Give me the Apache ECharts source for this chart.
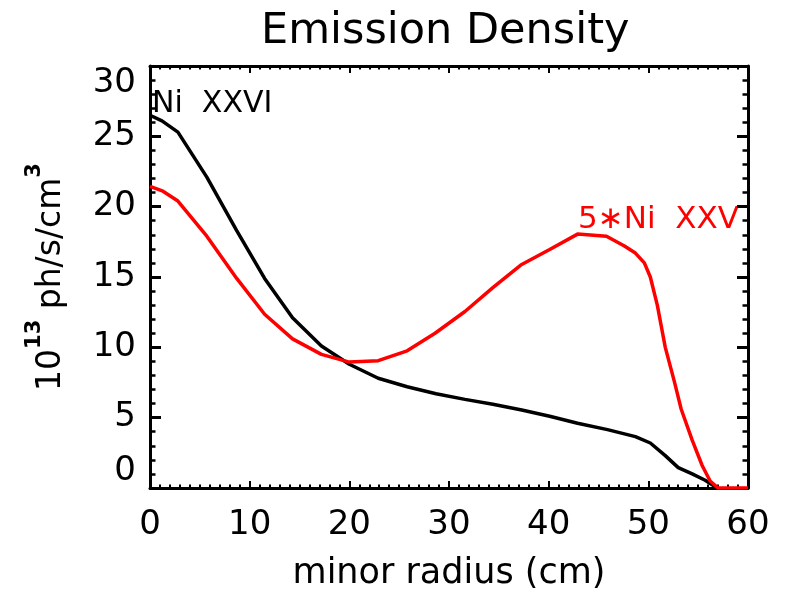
<!DOCTYPE html>
<html>
<head>
<meta charset="utf-8">
<script src="https://cdn.jsdelivr.net/npm/echarts@6/dist/echarts.min.js"></script>
<style>
  html, body { margin: 0; padding: 0; background: #fff; }
  #chart { width: 788px; height: 596px; }
</style>
</head>
<body>
<div id="chart"></div>
<script>
// Ni XXVI emission density profile (10^13 ph/s/cm^3 vs minor radius in cm)
const radiusNi26 = [0, 1.2, 2.8, 5.7, 8.7, 11.5, 14.3, 17.2, 20.0, 22.9, 25.8, 28.7, 31.6, 34.4, 37.3, 40.1, 42.9, 45.9, 48.7, 50.2, 51.7, 53.0, 54.4, 55.7, 56.8];
const emissNi26 = [26.5, 26.1, 25.3, 22.1, 18.3, 14.9, 12.1, 10.1, 8.8, 7.8, 7.2, 6.7, 6.3, 5.95, 5.55, 5.1, 4.6, 4.15, 3.65, 3.2, 2.3, 1.45, 1.0, 0.55, 0.05];

// Ni XXV emission density, scaled by 5
const radiusNi25 = [0, 1.3, 2.8, 5.7, 8.7, 11.5, 14.3, 17.2, 20.0, 22.9, 25.8, 28.6, 31.6, 34.4, 37.2, 40.1, 42.9, 45.8, 47.6, 48.7, 49.6, 50.2, 50.9, 51.7, 52.6, 53.3, 54.4, 55.4, 56.2, 57.0, 60.0];
const emissNi25x5 = [21.45, 21.1, 20.4, 17.9, 14.9, 12.35, 10.6, 9.5, 8.95, 9.05, 9.75, 11.0, 12.55, 14.25, 15.85, 16.95, 18.05, 17.9, 17.2, 16.7, 16.0, 15.0, 13.0, 10.0, 7.6, 5.6, 3.4, 1.6, 0.5, 0, 0];

const xTicks = [0, 10, 20, 30, 40, 50, 60];
const yTicks = [0, 5, 10, 15, 20, 25, 30];

const FONT = 'DejaVu Sans';
const pairs = (xs, ys) => xs.map((x, i) => [x, ys[i]]);

const chart = echarts.init(document.getElementById('chart'), null, { renderer: 'canvas' });

const axisLine = { show: true, onZero: false, lineStyle: { color: '#000', width: 3 } };

function xAxisDef(pos, labels) {
  return {
    type: 'value', position: pos, min: xTicks[0], max: xTicks[xTicks.length - 1], interval: 10,
    axisLine: axisLine,
    axisTick: { show: true, inside: true, length: 7, lineStyle: { color: '#000', width: 2 } },
    minorTick: { show: true, splitNumber: 10, length: 3.5, lineStyle: { color: '#000', width: 2 } },
    splitLine: { show: false },
    axisLabel: labels ? { show: true, margin: 20, color: '#000', fontFamily: FONT, fontSize: 34 } : { show: false },
    name: labels ? 'minor radius (cm)' : '',
    nameLocation: 'middle', nameGap: 68,
    nameTextStyle: { color: '#000', fontFamily: FONT, fontSize: 35 }
  };
}

function yAxisDef(pos, labels) {
  return {
    type: 'value', position: pos, min: yTicks[0], max: yTicks[yTicks.length - 1], interval: 5,
    axisLine: axisLine,
    axisTick: { show: true, inside: true, length: 11, lineStyle: { color: '#000', width: 3 } },
    minorTick: { show: true, splitNumber: 5, length: 5.5, lineStyle: { color: '#000', width: 2.5 } },
    splitLine: { show: false },
    axisLabel: labels ? {
      show: true, margin: 14, color: '#000', fontFamily: FONT, fontSize: 34,
      verticalAlignMinLabel: 'bottom', verticalAlignMaxLabel: 'top'
    } : { show: false },
    name: labels ? '{n|10}{s|13}{n| ph/s/cm}{s|3}' : '',
    nameLocation: 'middle', nameRotate: 90, nameGap: 82,
    nameTextStyle: {
      color: '#000', fontFamily: FONT, fontSize: 33,
      rich: {
        n: { fontFamily: FONT, fontSize: 33, color: '#000', verticalAlign: 'bottom', lineHeight: 44 },
        s: { fontFamily: FONT, fontSize: 21, color: '#000', fontWeight: 'bold', verticalAlign: 'top', lineHeight: 44 }
      }
    }
  };
}

chart.setOption({
  backgroundColor: '#fff',
  animation: false,
  grid: { left: 150, right: 40, top: 66, bottom: 105, containLabel: false },
  xAxis: [xAxisDef('bottom', true), xAxisDef('top', false)],
  yAxis: [yAxisDef('left', true), yAxisDef('right', false)],
  series: [
    {
      name: 'Ni XXVI', type: 'line', xAxisIndex: 0, yAxisIndex: 0,
      data: pairs(radiusNi26, emissNi26),
      showSymbol: false, smooth: false,
      lineStyle: { color: '#000', width: 3.5 }
    },
    {
      name: '5*Ni XXV', type: 'line', xAxisIndex: 0, yAxisIndex: 0,
      data: pairs(radiusNi25, emissNi25x5),
      showSymbol: false, smooth: false,
      lineStyle: { color: '#ff0000', width: 3.5 }
    }
  ],
  graphic: [
    {
      type: 'text', left: 449 - 188, top: 10,
      style: { text: 'Emission Density', fill: '#000', font: '43px "DejaVu Sans"' }
    },
    {
      type: 'text', x: 152, y: 104,
      style: { text: 'Ni  XXVI', fill: '#000', font: '30px "DejaVu Sans"', verticalAlign: 'middle' }
    },
    {
      type: 'text', x: 578, y: 220,
      style: { text: '5\u2217Ni  XXV', fill: '#ff0000', font: '31px "DejaVu Sans"', verticalAlign: 'middle' }
    }
  ]
});
</script>
</body>
</html>
